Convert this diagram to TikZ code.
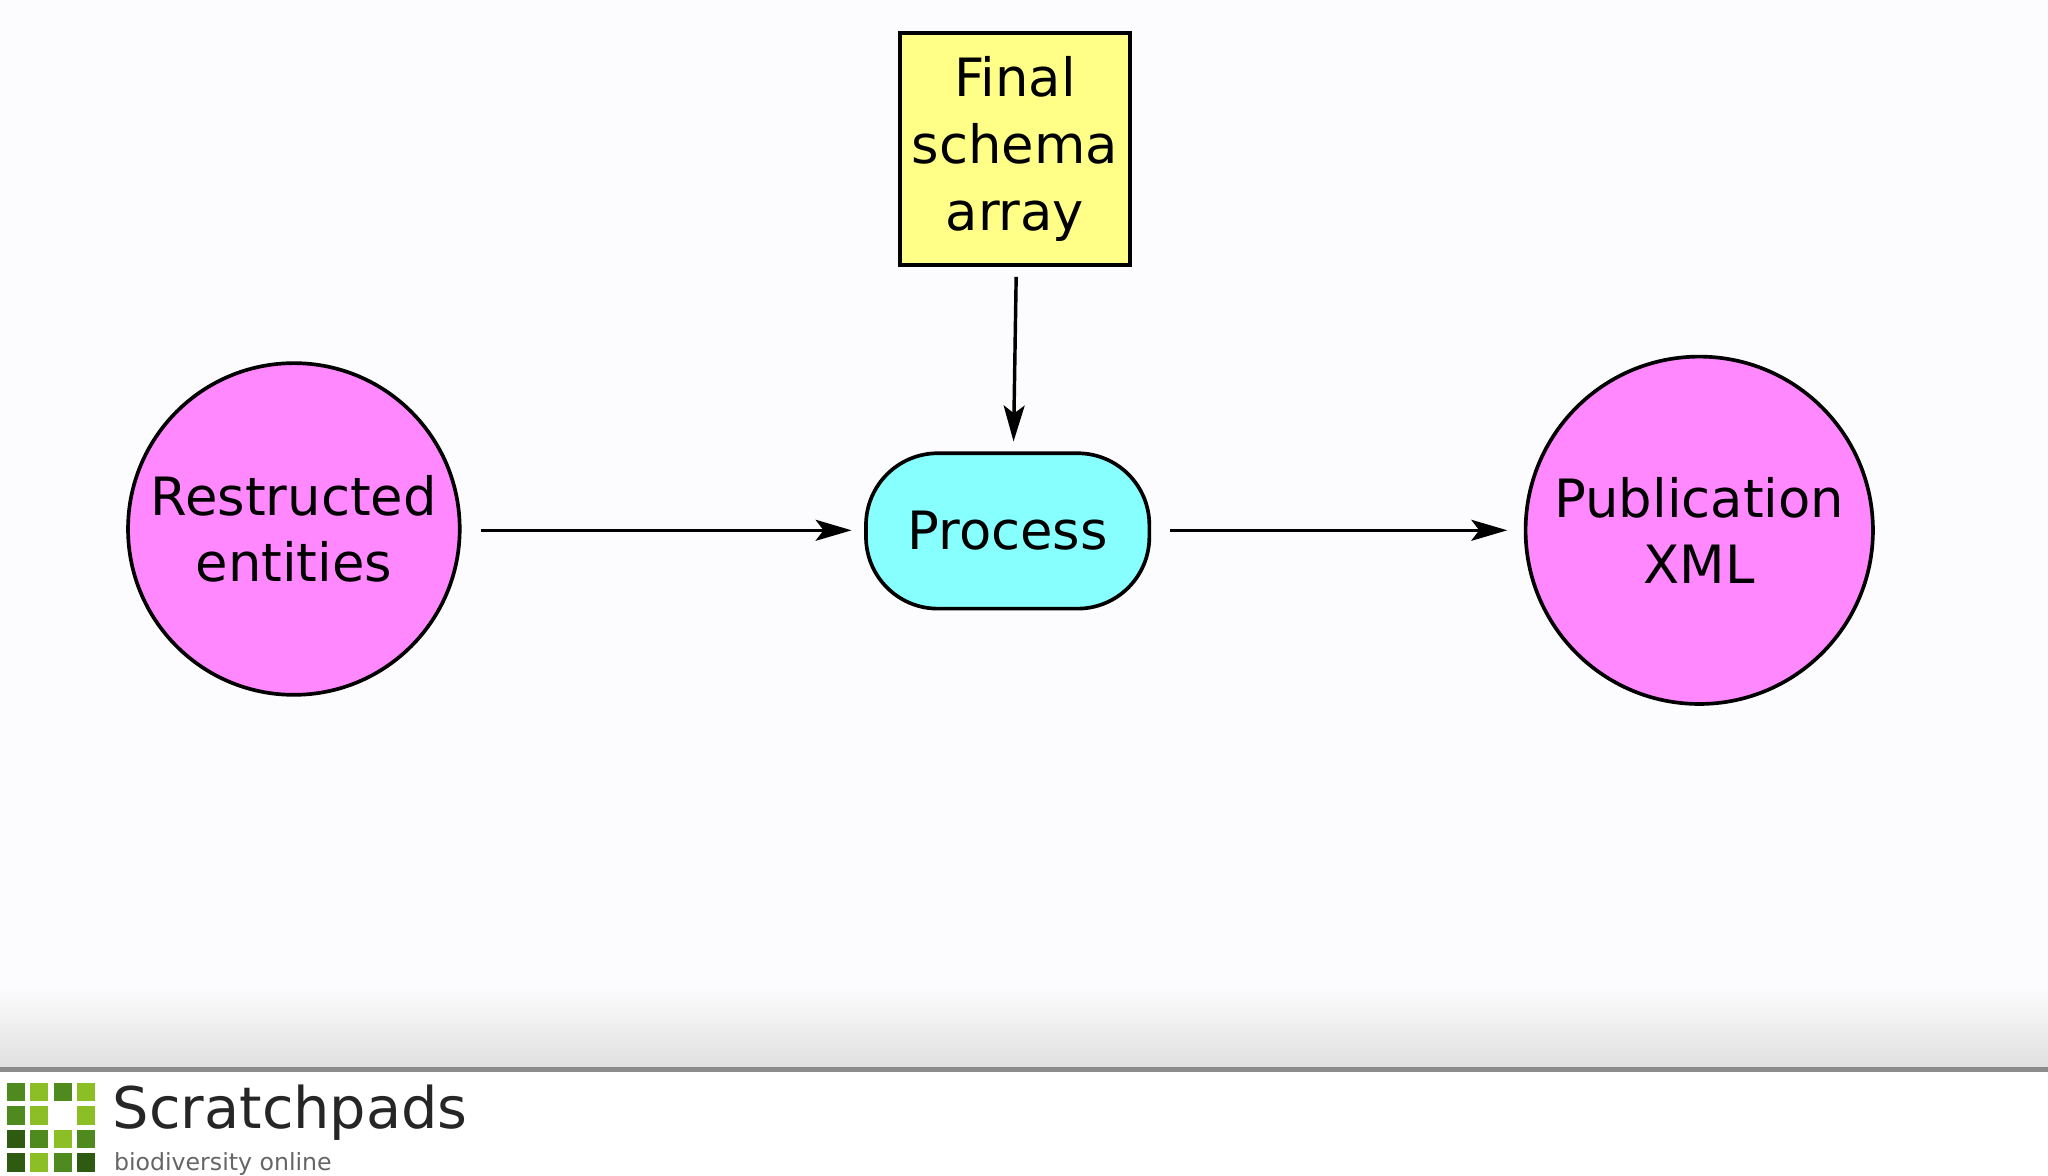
\documentclass[tikz,border=0pt]{standalone}
\usepackage{fontspec}
\setmainfont{DejaVu Sans}
\usetikzlibrary{arrows.meta}
\definecolor{bg}{HTML}{FCFBFD}
\definecolor{pinkf}{HTML}{FF88FF}
\definecolor{cyanf}{HTML}{88FFFF}
\definecolor{yelf}{HTML}{FFFF88}
\definecolor{gA}{HTML}{4E8A1E}
\definecolor{gB}{HTML}{8CBF26}
\definecolor{gC}{HTML}{2F5A12}
\begin{document}
\begin{tikzpicture}[x=0.02cm,y=-0.02cm,
  lbl/.style={font=\fontsize{23}{29}\selectfont,align=center,text=black},
  circ/.style={circle,draw=black,line width=1.6pt,fill=pinkf,lbl},
  arr/.style={-{Stealth[length=0.55cm,width=0.32cm,inset=0.12cm]},line width=1.5pt},
  cell/.style={inner sep=0,minimum size=0.3cm}]
\useasboundingbox (0,0) rectangle (1568,900);
\fill[bg] (0,0) rectangle (1568,900);
\shade[top color=bg,bottom color=black!12] (0,755) rectangle (1568,818);
\fill[black!45] (0,817) rectangle (1568,821);
\fill[white] (0,821) rectangle (1568,900);
% nodes
\node[draw=black,line width=1.6pt,fill=yelf,lbl,minimum width=3.52cm,minimum height=3.56cm,inner sep=0] (fs) at (777,114) {Final\\schema\\array};
\node[draw=black,line width=1.6pt,fill=cyanf,lbl,rounded corners=1.1cm,minimum width=4.34cm,minimum height=2.38cm] (pr) at (771.5,406.5) {Process};
\node[circ,minimum size=5.08cm,inner sep=0] (re) at (225,405) {Restructed\\entities};
\node[circ,minimum size=5.32cm,inner sep=0] (px) at (1301,406) {Publication\\XML};
\coordinate (a1) at (368,406); \coordinate (b1) at (652,406);
\coordinate (a2) at (896,406); \coordinate (b2) at (1154,406);
\coordinate (a3) at (778,212); \coordinate (b3) at (776,338);
\draw[arr] (a1) -- (b1);
\draw[arr] (a2) -- (b2);
\draw[arr] (a3) -- (b3);
% logo
\foreach \c/\r/\col in {0/0/gA,1/0/gB,2/0/gA,3/0/gB,0/1/gA,1/1/gB,3/1/gB,0/2/gC,1/2/gA,2/2/gB,3/2/gA,0/3/gC,1/3/gB,2/3/gA,3/3/gC}
  \fill[\col] (5+\c*18,829+\r*18) rectangle (19+\c*18,843+\r*18);
\node[anchor=base west,inner sep=0,font=\fontsize{25}{30}\selectfont,text=black!85] (sp) at (86,864) {Scratchpads};
\node[anchor=base west,inner sep=0,font=\fontsize{10.3}{12}\selectfont,text=black!60] (bo) at (87,896) {biodiversity online};
\end{tikzpicture}
\end{document}
